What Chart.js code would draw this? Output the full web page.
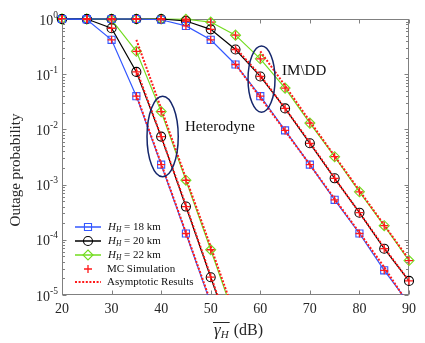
<!DOCTYPE html>
<html>
<head>
<meta charset="utf-8">
<script src="https://cdn.jsdelivr.net/npm/chart.js@4.4.0/dist/chart.umd.min.js"></script>
<style>
  body { margin: 0; background: #fff; }
  #wrap { width: 425px; height: 343px; }
</style>
</head>
<body>
<div id="wrap"><canvas id="myChart" width="425" height="343"></canvas></div>
<script>
// --- data ---
const heights = [18, 20, 22];               // H_H in km
const xHet = [20, 25, 30, 35, 40, 45, 50, 55];
const het18 = [1, 0.98, 0.42, 0.04, 0.0023, 1.3e-4, 7e-6, 4e-7];
const het20 = [1, 1, 0.68, 0.11, 0.0074, 4.0e-4, 2.1e-5, 1.1e-6];
const het22 = [1, 1, 0.97, 0.26, 0.021, 1.2e-3, 6.6e-5, 3.5e-6];

const xIM = [20, 25, 30, 35, 40, 45, 50, 55, 60, 65, 70, 75, 80, 85, 90];
const im18 = [1, 1, 1, 1, 0.97, 0.75, 0.42, 0.15, 0.04, 0.0096, 0.0023, 5.3e-4, 1.3e-4, 2.8e-5, 7e-6];
const im20 = [1, 1, 1, 1, 1, 0.92, 0.65, 0.28, 0.091, 0.024, 0.0056, 0.0013, 3.1e-4, 6.9e-5, 1.8e-5];
const im22 = [1, 1, 1, 1, 1, 0.99, 0.88, 0.51, 0.19, 0.056, 0.013, 0.0032, 7.4e-4, 1.8e-4, 4.2e-5];

// asymptotic results
const xAsHet = [35, 40, 45, 50, 55];
const asHet18 = [0.042, 0.0024, 1.35e-4, 7.5e-6, 4e-7];
const asHet20 = [0.12, 0.0075, 4.2e-4, 2.2e-5, 1.2e-6];
const asHet22 = [0.42, 0.024, 1.3e-3, 7.5e-5, 4e-6];
const xAsIM = [55, 60, 65, 70, 75, 80, 85, 90];
const asIM18 = [0.15, 0.038, 0.0094, 0.0023, 5.5e-4, 1.35e-4, 3.2e-5, 6.5e-6];
const asIM20 = [0.3, 0.095, 0.024, 0.0058, 0.0013, 3.1e-4, 7.2e-5, 1.8e-5];
const xAsIM22 = [60, 65, 70, 75, 80, 85, 90];
const asIM22 = [0.26, 0.062, 0.014, 0.0033, 7.8e-4, 1.85e-4, 4.4e-5];

const xTicks = [20, 30, 40, 50, 60, 70, 80, 90];
const yExps = [0, -1, -2, -3, -4, -5];

// --- styles ---
const FONT = "'Liberation Serif', 'Times New Roman', serif";
const colors = ['#3357ff', '#000000', '#72dc1e'];
const shapes = ['rect', 'circle', 'rectRot'];
const sizes = [5, 4.5, 5];
const RED = '#ff1a1a';
const CLIP = {left: 8, top: 8, right: 8, bottom: 0};

function pts(xs, ys) { return xs.map((v, i) => ({x: v, y: ys[i]})); }

const curves = [
  [het18, im18], [het20, im20], [het22, im22]
];
const asym = [
  [xAsHet, asHet18, xAsIM, asIM18],
  [xAsHet, asHet20, xAsIM, asIM20],
  [xAsHet, asHet22, xAsIM22, asIM22]
];

const datasets = [];
curves.forEach((c, i) => {
  [pts(xHet, c[0]), pts(xIM, c[1])].forEach(d => {
    datasets.push({
      data: d, borderColor: colors[i], borderWidth: 1.2,
      pointStyle: shapes[i], pointRadius: sizes[i], pointBorderWidth: 1.1,
      pointBorderColor: colors[i], pointBackgroundColor: 'rgba(0,0,0,0)',
      clip: CLIP, order: 3
    });
  });
});
asym.forEach(a => {
  [pts(a[0], a[1]), pts(a[2], a[3])].forEach(d => {
    datasets.push({
      data: d, borderColor: RED, borderWidth: 2, borderDash: [2, 1.6],
      pointRadius: 0, order: 2
    });
  });
});
// MC simulation crosses on every simulated point
let mc = [];
curves.forEach(c => { mc = mc.concat(pts(xHet, c[0]), pts(xIM, c[1])); });
datasets.push({
  data: mc, showLine: false, pointStyle: 'cross', pointRadius: 4,
  pointBorderColor: RED, pointBorderWidth: 1.3, borderColor: RED,
  clip: CLIP, order: 1
});

// annotations (data coordinates)
const ellipses = [
  {x: 40.3, y: -2.13, rx: 3.15, ry: 0.73},
  {x: 60.25, y: -1.09, rx: 2.72, ry: 0.6}
];
const notes = [
  {text: 'Heterodyne', x: 44.8, y: -1.95},
  {text: 'IM\\DD', x: 64.4, y: -0.95}
];

function drawMarker(ctx, style, x, y, r, color, lw) {
  ctx.save();
  ctx.strokeStyle = color; ctx.lineWidth = lw;
  ctx.beginPath();
  if (style === 'rect') {
    const s = r * Math.SQRT1_2;
    ctx.rect(x - s, y - s, 2 * s, 2 * s);
  } else if (style === 'circle') {
    ctx.arc(x, y, r, 0, Math.PI * 2);
  } else if (style === 'rectRot') {
    ctx.moveTo(x, y - r); ctx.lineTo(x + r, y); ctx.lineTo(x, y + r); ctx.lineTo(x - r, y); ctx.closePath();
  } else if (style === 'cross') {
    ctx.moveTo(x - r, y); ctx.lineTo(x + r, y); ctx.moveTo(x, y - r); ctx.lineTo(x, y + r);
  }
  ctx.stroke();
  ctx.restore();
}

const deco = {
  id: 'deco',
  beforeDatasetsDraw(chart) {
    // axes box below the data, as in the original
    const {ctx, chartArea: a} = chart;
    ctx.save();
    ctx.strokeStyle = '#808080'; ctx.lineWidth = 1;
    ctx.strokeRect(a.left + 0.5, a.top + 0.5, a.right - a.left - 1, a.bottom - a.top - 1);
    ctx.restore();
  },
  afterDraw(chart) {
    const {ctx, chartArea: a, scales} = chart;
    const sx = scales.x, sy = scales.y;
    ctx.save();
    const L = a.left + 0.5, R = a.right - 0.5, T = a.top + 0.5, B = a.bottom - 0.5;

    // inward ticks
    ctx.strokeStyle = '#808080'; ctx.lineWidth = 1;
    ctx.beginPath();
    xTicks.forEach(v => {
      const px = Math.round(sx.getPixelForValue(v)) + 0.5;
      ctx.moveTo(px, B); ctx.lineTo(px, B - 4);
      ctx.moveTo(px, T); ctx.lineTo(px, T + 4);
    });
    for (let e = -5; e <= 0; e++) {
      for (let m = 1; m <= 9; m++) {
        const v = m * Math.pow(10, e);
        if (v > 1) break;
        const py = Math.round(sy.getPixelForValue(v)) + 0.5;
        const len = m === 1 ? 4 : 2.5;
        ctx.moveTo(L, py); ctx.lineTo(L + len, py);
        ctx.moveTo(R, py); ctx.lineTo(R - len, py);
      }
    }
    ctx.stroke();

    // tick labels
    ctx.fillStyle = '#262626';
    ctx.font = '14px ' + FONT;
    ctx.textAlign = 'center'; ctx.textBaseline = 'middle';
    xTicks.forEach(v => ctx.fillText(String(v), sx.getPixelForValue(v), a.bottom + 14));
    yExps.forEach(e => {
      const py = sy.getPixelForValue(Math.pow(10, e));
      ctx.font = '14px ' + FONT;
      const wb = ctx.measureText('10').width;
      ctx.font = '9.5px ' + FONT;
      const es = e === 0 ? '0' : '-' + (-e);
      const we = ctx.measureText(es).width;
      const x0 = 58 - wb - we;
      ctx.textAlign = 'left';
      ctx.font = '14px ' + FONT;
      ctx.fillText('10', x0, py + 2);
      ctx.font = '9.5px ' + FONT;
      ctx.fillText(es, x0 + wb, py - 4);
    });

    // y title
    ctx.save();
    ctx.translate(16, 170);
    ctx.rotate(-Math.PI / 2);
    ctx.textAlign = 'center';
    ctx.font = '15px ' + FONT;
    ctx.fillText('Outage probability', 0, 0);
    ctx.restore();

    // x title: overline gamma_H (dB)
    ctx.textAlign = 'left'; ctx.textBaseline = 'alphabetic';
    let xt = 214;
    const yb = 335;
    ctx.font = 'italic 17px ' + FONT;
    ctx.fillText('\u03B3', xt, yb);
    xt += ctx.measureText('\u03B3').width;
    ctx.font = 'italic 11px ' + FONT;
    ctx.fillText('H', xt, yb + 3);
    xt += ctx.measureText('H').width + 1;
    ctx.strokeStyle = '#262626'; ctx.lineWidth = 1;
    ctx.beginPath(); ctx.moveTo(213, 322.5); ctx.lineTo(xt, 322.5); ctx.stroke();
    ctx.font = '16px ' + FONT;
    ctx.fillText(' (dB)', xt, yb);

    // ellipses and notes
    ctx.strokeStyle = '#14266b'; ctx.lineWidth = 1.5;
    ellipses.forEach(el => {
      const cx = sx.getPixelForValue(el.x);
      const cy = sy.getPixelForValue(Math.pow(10, el.y));
      const rx = sx.getPixelForValue(el.x + el.rx) - cx;
      const ry = cy - sy.getPixelForValue(Math.pow(10, el.y + el.ry));
      ctx.beginPath(); ctx.ellipse(cx, cy, rx, ry, 0, 0, Math.PI * 2); ctx.stroke();
    });
    ctx.fillStyle = '#111';
    ctx.font = '15px ' + FONT;
    ctx.textBaseline = 'middle';
    notes.forEach(n => ctx.fillText(n.text, sx.getPixelForValue(n.x), sy.getPixelForValue(Math.pow(10, n.y))));

    // legend
    const rows = [227, 241, 255, 269, 282];
    heights.forEach((h, i) => {
      const y = rows[i];
      ctx.strokeStyle = colors[i]; ctx.lineWidth = 1.5;
      ctx.beginPath(); ctx.moveTo(75, y); ctx.lineTo(101, y); ctx.stroke();
      drawMarker(ctx, shapes[i], 88, y, sizes[i], colors[i], 1.1);
      ctx.fillStyle = '#111';
      let tx = 108;
      ctx.font = 'italic 11px ' + FONT;
      ctx.fillText('H', tx, y);
      tx += ctx.measureText('H').width;
      ctx.font = 'italic 7.5px ' + FONT;
      ctx.fillText('H', tx, y + 3);
      tx += ctx.measureText('H').width;
      ctx.font = '11px ' + FONT;
      ctx.fillText(' = ' + h + ' km', tx, y);
    });
    drawMarker(ctx, 'cross', 88, rows[3], 4, RED, 1.3);
    ctx.fillText('MC Simulation', 107, rows[3]);
    ctx.strokeStyle = RED; ctx.lineWidth = 2; ctx.setLineDash([2, 1.6]);
    ctx.beginPath(); ctx.moveTo(75, rows[4]); ctx.lineTo(101, rows[4]); ctx.stroke();
    ctx.setLineDash([]);
    ctx.fillText('Asymptotic Results', 107, rows[4]);

    ctx.restore();
  }
};

new Chart(document.getElementById('myChart'), {
  type: 'line',
  data: { datasets: datasets },
  options: {
    responsive: false,
    animation: false,
    events: [],
    layout: { padding: { top: 19, right: 16, left: 0, bottom: 0 } },
    plugins: { legend: { display: false }, tooltip: { enabled: false } },
    scales: {
      x: {
        type: 'linear', min: 20, max: 90,
        grid: { display: false }, border: { display: false },
        ticks: { display: false },
        afterFit(s) { s.height = 48; }
      },
      y: {
        type: 'logarithmic', min: 1e-5, max: 1,
        grid: { display: false }, border: { display: false },
        ticks: { display: false },
        afterFit(s) { s.width = 62; }
      }
    }
  },
  plugins: [deco]
});
</script>
</body>
</html>
